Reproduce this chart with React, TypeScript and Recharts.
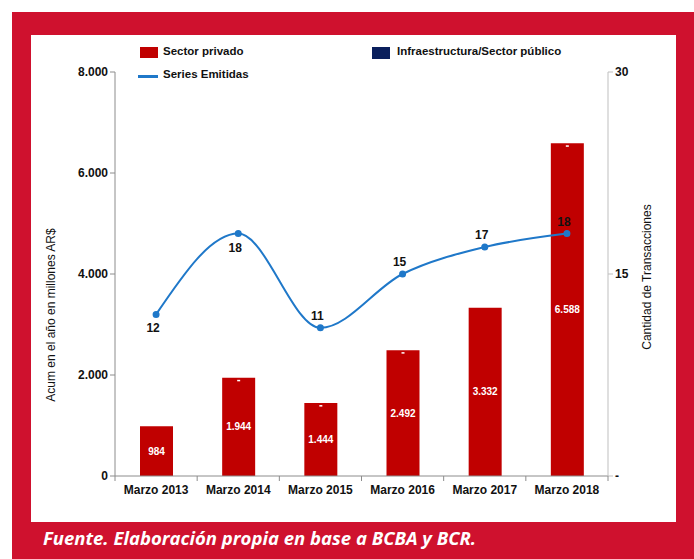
import { ComposedChart, Bar, Line, XAxis, YAxis, LabelList } from "recharts"

const years = ["Marzo 2013", "Marzo 2014", "Marzo 2015", "Marzo 2016", "Marzo 2017", "Marzo 2018"]
const privado = [984, 1944, 1444, 2492, 3332, 6588]
const publico = [null, 0, 0, 0, null, 0]
const series = [12, 18, 11, 15, 17, 18]
const leftTicks = [0, 2000, 4000, 6000, 8000]
const rightTicks = [0, 15, 30]

const data = years.map((name, i) => ({ name, privado: privado[i], publico: publico[i], series: series[i] }))

const RED = "#c00000"
const NAVY = "#0a1f5c"
const BLUE = "#1f78c9"
const FRAME = "#cf112e"
const FONT = "'Liberation Sans', Arial, sans-serif"

const PLOT_LEFT = 115
const PLOT_RIGHT = 608
const BAND = (PLOT_RIGHT - PLOT_LEFT) / years.length

const fmt = (v: number) => String(v).replace(/\B(?=(\d{3})+(?!\d))/g, ".")

const XTick = (props: any) => {
    const { x, y, payload, index } = props
    const last = index === years.length - 1
    return (
        <g>
            <line x1={x - BAND / 2} x2={x - BAND / 2} y1={y - 8} y2={y - 3} stroke="#8c8c8c" />
            {last && <line x1={x + BAND / 2} x2={x + BAND / 2} y1={y - 8} y2={y - 3} stroke="#8c8c8c" />}
            <text x={x} y={y + 10} textAnchor="middle" fontSize={12} fontWeight="bold" fill="#111" fontFamily={FONT}>
                {payload.value}
            </text>
        </g>
    )
}

const LineLabel = (props: any) => {
    const { x, y, value, index } = props
    const below = index < 2
    return (
        <text x={x - 3} y={below ? y + 18 : y - 8} textAnchor="middle" fontSize={12} fontWeight="bold" fill="#111" fontFamily={FONT}>
            {value}
        </text>
    )
}

// the public sector series is zero everywhere; Excel still printed its "-" label at the top of the stack
const DashLabel = (props: any) => {
    const { x, y, width, index } = props
    const v = publico[index]
    if (v === null || v === undefined) return null
    return <rect x={x + width / 2 - 1.5} y={y + 2} width={3} height={1.5} fill="#fff" />
}

export default function App() {
    return (
        <div style={{ position: "absolute", left: 0, top: 0, width: 694, height: 559, background: "#fff", fontFamily: FONT }}>
            <div style={{ position: "absolute", left: 12, top: 12, width: 682, height: 547, background: FRAME }} />
            <div style={{ position: "absolute", left: 31, top: 35, width: 645, height: 487, background: "#fff" }} />

            <div style={{ position: "absolute", left: 140, top: 47, width: 18, height: 11, background: RED }} />
            <div style={{ position: "absolute", left: 163, top: 45, fontSize: 11.5, fontWeight: "bold", color: "#111" }}>Sector privado</div>
            <div style={{ position: "absolute", left: 372, top: 47, width: 18, height: 12, background: NAVY }} />
            <div style={{ position: "absolute", left: 397, top: 45, fontSize: 11.5, fontWeight: "bold", color: "#111" }}>Infraestructura/Sector público</div>
            <div style={{ position: "absolute", left: 138, top: 75, width: 20, height: 3, background: BLUE }} />
            <div style={{ position: "absolute", left: 163, top: 68, fontSize: 11.5, fontWeight: "bold", color: "#111" }}>Series Emitidas</div>

            <div style={{ position: "absolute", left: 0, top: 0 }}>
                <ComposedChart width={694} height={559} data={data} barSize={33} margin={{ top: 72, right: 20, bottom: 53, left: 30 }}>
                    <XAxis dataKey="name" height={30} tick={<XTick />} tickLine={false} axisLine={{ stroke: "#8c8c8c" }} interval={0} />
                    <YAxis
                        yAxisId="left"
                        width={85}
                        domain={[0, 8000]}
                        ticks={leftTicks}
                        tickFormatter={fmt}
                        tick={{ fontSize: 12, fontWeight: "bold", fill: "#111", fontFamily: FONT }}
                        stroke="#8c8c8c"
                        tickSize={5}
                        label={({ viewBox }: any) => (
                            <text
                                x={viewBox.x + 22}
                                y={315}
                                transform={`rotate(-90, ${viewBox.x + 22}, 315)`}
                                textAnchor="middle"
                                dominantBaseline="middle"
                                fontSize={12}
                                fill="#111"
                                fontFamily={FONT}
                            >
                                Acum en el año en millones AR$
                            </text>
                        )}
                    />
                    <YAxis
                        yAxisId="right"
                        orientation="right"
                        width={66}
                        domain={[0, 30]}
                        ticks={rightTicks}
                        tickFormatter={(v: number) => (v === 0 ? "-" : String(v))}
                        tick={{ fontSize: 12, fontWeight: "bold", fill: "#111", fontFamily: FONT }}
                        stroke="#bfbfbf"
                        tickSize={5}
                        label={({ viewBox }: any) => (
                            <text
                                x={viewBox.x + 40}
                                y={277}
                                transform={`rotate(-90, ${viewBox.x + 40}, 277)`}
                                textAnchor="middle"
                                dominantBaseline="middle"
                                fontSize={12}
                                fill="#111"
                                fontFamily={FONT}
                            >
                                Cantidad de Transacciones
                            </text>
                        )}
                    />
                    <Bar yAxisId="left" dataKey="privado" stackId="a" fill={RED} isAnimationActive={false}>
                        <LabelList dataKey="privado" position="center" formatter={(v: any) => fmt(v)} fill="#fff" fontSize={10} fontWeight="bold" fontFamily={FONT} />
                        <LabelList dataKey="privado" content={<DashLabel />} />
                    </Bar>
                    <Bar yAxisId="left" dataKey="publico" stackId="a" fill={NAVY} isAnimationActive={false} />
                    <Line
                        yAxisId="right"
                        type="monotone"
                        dataKey="series"
                        stroke={BLUE}
                        strokeWidth={2}
                        dot={{ r: 2.5, fill: BLUE, stroke: BLUE }}
                        isAnimationActive={false}
                    >
                        <LabelList dataKey="series" content={<LineLabel />} />
                    </Line>
                </ComposedChart>
            </div>

            <div
                style={{
                    position: "absolute",
                    left: 43,
                    top: 526,
                    color: "#fff",
                    fontFamily: "'Open Sans', sans-serif",
                    fontStyle: "italic",
                    fontWeight: "bold",
                    fontSize: 18.5,
                    lineHeight: "24px",
                    whiteSpace: "nowrap",
                }}
            >
                Fuente. Elaboración propia en base a BCBA y BCR.
            </div>
        </div>
    )
}
